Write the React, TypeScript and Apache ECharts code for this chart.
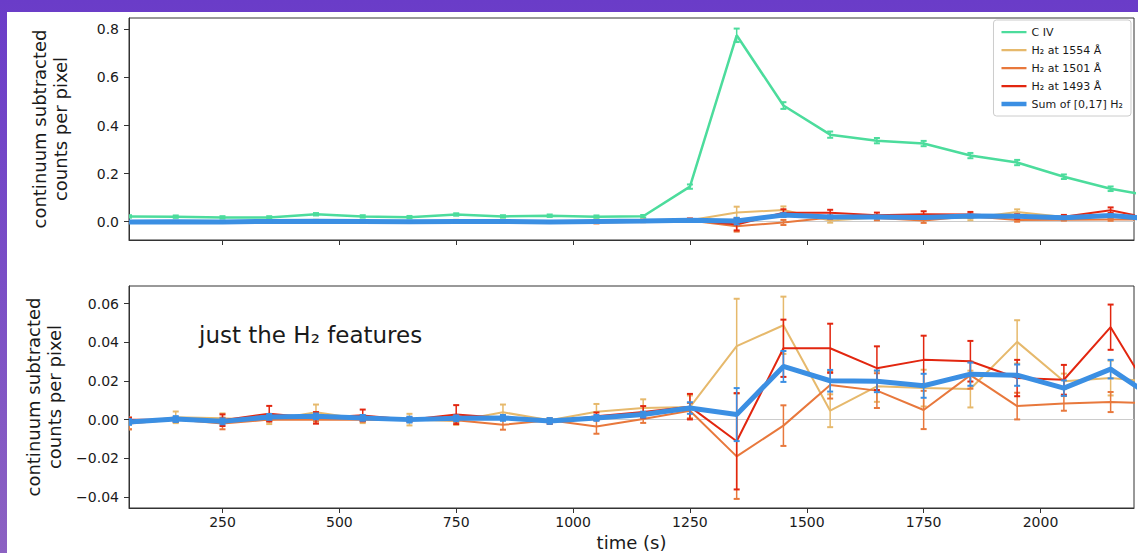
import React, { useEffect, useRef } from "react";
import * as echarts from "echarts";

const FONT = "DejaVu Sans";

const times = [50, 150, 250, 350, 450, 550, 650, 750, 850, 950, 1050, 1150, 1250, 1350, 1450, 1550, 1650, 1750, 1850, 1950, 2050, 2150, 2250];

const civ = [0.022, 0.021, 0.018, 0.018, 0.031, 0.022, 0.019, 0.03, 0.022, 0.025, 0.021, 0.023, 0.146, 0.775, 0.483, 0.362, 0.337, 0.325, 0.275, 0.246, 0.187, 0.137, 0.103];
const civErr = [0.005, 0.005, 0.005, 0.005, 0.005, 0.005, 0.005, 0.005, 0.005, 0.005, 0.005, 0.005, 0.009, 0.028, 0.014, 0.013, 0.011, 0.011, 0.011, 0.011, 0.0095, 0.0095, 0.009];

const h1554 = [-0.002, 0.0012, 0.0007, -0.0003, 0.0038, 0.0002, 0.0, -0.0007, 0.0038, -0.0003, 0.0041, 0.006, 0.0065, 0.038, 0.0488, 0.0046, 0.0172, 0.0163, 0.0158, 0.0402, 0.0198, 0.0215, 0.0194];
const h1554Err = [0.003, 0.003, 0.0025, 0.002, 0.004, 0.002, 0.003, 0.002, 0.004, 0.001, 0.004, 0.0045, 0.006, 0.0245, 0.0148, 0.0085, 0.008, 0.0095, 0.0095, 0.0112, 0.004, 0.009, 0.008];

const h1501 = [-0.002, 0.0, -0.002, 0.0, 0.0, 0.0, 0.0, -0.0003, -0.0027, -0.0003, -0.0036, 0.0003, 0.0046, -0.019, -0.0031, 0.0179, 0.015, 0.005, 0.023, 0.007, 0.0084, 0.0091, 0.0085];
const h1501Err = [0.003, 0.001, 0.003, 0.001, 0.001, 0.001, 0.001, 0.001, 0.0025, 0.001, 0.0037, 0.002, 0.004, 0.022, 0.0105, 0.007, 0.009, 0.0099, 0.007, 0.0069, 0.0038, 0.0052, 0.005];

const h1493 = [0.0, 0.0, -0.0003, 0.0031, 0.0009, 0.0022, 0.0, 0.0026, 0.0009, -0.0012, 0.0017, 0.004, 0.0067, -0.0112, 0.0369, 0.0369, 0.0266, 0.0309, 0.0302, 0.0215, 0.0206, 0.0478, 0.0079];
const h1493Err = [0.001, 0.001, 0.003, 0.004, 0.003, 0.003, 0.001, 0.0049, 0.001, 0.001, 0.002, 0.003, 0.0066, 0.0249, 0.0148, 0.0127, 0.0113, 0.0125, 0.0105, 0.0094, 0.0077, 0.0117, 0.008];

const h2Sum = [-0.0012, 0.0003, -0.0009, 0.0014, 0.0017, 0.0009, 0.0, 0.0007, 0.0009, -0.0007, 0.0009, 0.0026, 0.006, 0.0026, 0.0275, 0.0201, 0.0198, 0.0175, 0.0235, 0.023, 0.0163, 0.0261, 0.01];
const h2SumErr = [0.0015, 0.0015, 0.0015, 0.0015, 0.0015, 0.0015, 0.0015, 0.0015, 0.0015, 0.0015, 0.0015, 0.0015, 0.003, 0.0137, 0.008, 0.0056, 0.0056, 0.0062, 0.006, 0.0055, 0.004, 0.0048, 0.004];

const xTicks = [250, 500, 750, 1000, 1250, 1500, 1750, 2000];
const yTicksTop = [0, 0.2, 0.4, 0.6, 0.8];
const yTicksBottom = [-0.04, -0.02, 0, 0.02, 0.04, 0.06];

const sets = [
  { name: "C IV", vals: civ, errs: civErr, color: "#4cdc9c", width: 2.5, top: true, bottom: false },
  { name: "H₂ at 1554 Å", vals: h1554, errs: h1554Err, color: "#e6b96c", width: 2, top: true, bottom: true },
  { name: "H₂ at 1501 Å", vals: h1501, errs: h1501Err, color: "#e8783c", width: 2, top: true, bottom: true },
  { name: "H₂ at 1493 Å", vals: h1493, errs: h1493Err, color: "#e2260f", width: 2, top: true, bottom: true },
  { name: "Sum of [0,17] H₂", vals: h2Sum, errs: h2SumErr, color: "#3b8fe3", width: 5, top: true, bottom: true },
];

const ICON_THIN = "path://M0,0h0.01v0.01h-0.01z M0,6h25v2.2h-25z M24.99,13.99h0.01v0.01h-0.01z";
const ICON_THICK = "path://M0,0h0.01v0.01h-0.01z M0,4.8h25v4.4h-25z M24.99,13.99h0.01v0.01h-0.01z";

const makeErrRender = (color: string) => (params: any, api: any) => {
  const x = api.value(0);
  const lo = api.coord([x, api.value(1)]);
  const hi = api.coord([x, api.value(2)]);
  const h = 3;
  return {
    type: "group",
    children: [
      { type: "line", shape: { x1: lo[0], y1: lo[1], x2: hi[0], y2: hi[1] }, style: { stroke: color, lineWidth: 1.5 } },
      { type: "line", shape: { x1: lo[0] - h, y1: lo[1], x2: lo[0] + h, y2: lo[1] }, style: { stroke: color, lineWidth: 2 } },
      { type: "line", shape: { x1: hi[0] - h, y1: hi[1], x2: hi[0] + h, y2: hi[1] }, style: { stroke: color, lineWidth: 2 } },
    ],
  };
};

const fmtMinus = (v: number, d: number) => {
  if (Math.abs(v) < 1e-12) return (0).toFixed(d);
  return v < 0 ? "\u2212" + Math.abs(v).toFixed(d) : v.toFixed(d);
};

export default function App() {
  const ref = useRef<HTMLDivElement>(null);
  useEffect(() => {
    if (!ref.current) return;
    const chart = echarts.init(ref.current, undefined, { renderer: "svg" });
    const textColor = "#1a1a1a";
    const axisColor = "#333333";

    const series: any[] = [];
    [0, 1].forEach((g) => {
      sets.forEach((s, i) => {
        if (g === 0 && !s.top) return;
        if (g === 1 && !s.bottom) return;
        const line: any = {
          type: "line",
          name: s.name,
          xAxisIndex: g,
          yAxisIndex: g,
          data: times.map((t, k) => [t, s.vals[k]]),
          symbol: "none",
          lineStyle: { color: s.color, width: s.width },
          itemStyle: { color: s.color },
          clip: true,
          z: 3 + i * 2,
        };
        if ((g === 0 && i === 0) || (g === 1 && i === 1)) {
          line.markLine = {
            symbol: "none",
            silent: true,
            label: { show: false },
            lineStyle: { color: "#cccccc", width: 1, type: "solid" },
            data: [{ yAxis: 0 }],
            z: 1,
          };
        }
        series.push(line);
        series.push({
          type: "custom",
          name: s.name,
          xAxisIndex: g,
          yAxisIndex: g,
          data: times.map((t, k) => [t, s.vals[k] - s.errs[k], s.vals[k] + s.errs[k]]),
          encode: { x: 0, y: [1, 2] },
          renderItem: makeErrRender(s.color),
          clip: true,
          z: 4 + i * 2,
        });
      });
    });

    const xAxisBase = (g: number) => ({
      type: "value",
      gridIndex: g,
      min: 50,
      max: 2200,
      splitLine: { show: false },
      axisLine: { show: true, onZero: false, lineStyle: { color: axisColor, width: 1 } },
      axisTick: { show: true, inside: false, length: 5, customValues: xTicks, lineStyle: { color: axisColor, width: 1 } },
      axisLabel: {
        show: g === 1,
        customValues: xTicks,
        margin: 7,
        color: textColor,
        fontFamily: FONT,
        fontSize: 14,
        formatter: (v: number) => String(v),
      },
    });

    const yName = {
      name: "continuum subtracted\ncounts per pixel",
      nameLocation: "middle",
      nameRotate: 90,
      nameGap: 58,
      nameTextStyle: { color: textColor, fontFamily: FONT, fontSize: 18, lineHeight: 21 },
    };

    const option: any = {
      animation: false,
      textStyle: { fontFamily: FONT },
      grid: [
        { left: 129, top: 18, width: 1005, height: 222, show: true, borderColor: axisColor, borderWidth: 1, backgroundColor: "transparent" },
        { left: 129, top: 286, width: 1005, height: 222, show: true, borderColor: axisColor, borderWidth: 1, backgroundColor: "transparent" },
      ],
      xAxis: [
        xAxisBase(0),
        {
          ...xAxisBase(1),
          name: "time (s)",
          nameLocation: "middle",
          nameGap: 25,
          nameTextStyle: { color: textColor, fontFamily: FONT, fontSize: 18 },
        },
      ],
      yAxis: [
        {
          type: "value",
          gridIndex: 0,
          min: -0.076,
          max: 0.847,
          splitLine: { show: false },
          axisLine: { show: true, onZero: false, lineStyle: { color: axisColor, width: 1 } },
          axisTick: { show: true, length: 5, customValues: yTicksTop, lineStyle: { color: axisColor } },
          axisLabel: {
            customValues: yTicksTop,
            margin: 10,
            color: textColor,
            fontFamily: FONT,
            fontSize: 14,
            formatter: (v: number) => fmtMinus(v, 1),
          },
          ...yName,
        },
        {
          type: "value",
          gridIndex: 1,
          min: -0.0457,
          max: 0.0691,
          splitLine: { show: false },
          axisLine: { show: true, onZero: false, lineStyle: { color: axisColor, width: 1 } },
          axisTick: { show: true, length: 5, customValues: yTicksBottom, lineStyle: { color: axisColor } },
          axisLabel: {
            customValues: yTicksBottom,
            margin: 10,
            color: textColor,
            fontFamily: FONT,
            fontSize: 14,
            formatter: (v: number) => fmtMinus(v, 2),
          },
          ...yName,
        },
      ],
      legend: {
        data: sets.map((s, i) => ({ name: s.name, icon: i === 4 ? ICON_THICK : ICON_THIN })),
        orient: "vertical",
        right: 7,
        top: 20,
        padding: [5, 8, 5, 8],
        itemGap: 4,
        itemWidth: 25,
        itemHeight: 14,
        backgroundColor: "rgba(255,255,255,0.85)",
        borderColor: "#cccccc",
        borderWidth: 1,
        borderRadius: 3,
        textStyle: { color: textColor, fontFamily: FONT, fontSize: 11 },
      },
      graphic: [
        {
          type: "text",
          x: 199,
          y: 335,
          style: {
            text: "just the H₂ features",
            fill: textColor,
            font: `23px "${FONT}"`,
            textAlign: "left",
            textVerticalAlign: "middle",
          },
        },
      ],
      series,
    };
    chart.setOption(option);
    return () => chart.dispose();
  }, []);

  return (
    <div
      style={{
        position: "fixed",
        left: 0,
        top: 0,
        width: 1138,
        height: 553,
        background: "linear-gradient(180deg, #6a3cc8 0%, #7a4ec6 50%, #8c62c2 100%)",
        overflow: "hidden",
      }}
    >
      <div style={{ position: "absolute", left: 7, top: 12, width: 1131, height: 541, background: "#ffffff" }} />
      <div ref={ref} style={{ position: "absolute", left: 0, top: 0, width: 1138, height: 553 }} />
    </div>
  );
}
